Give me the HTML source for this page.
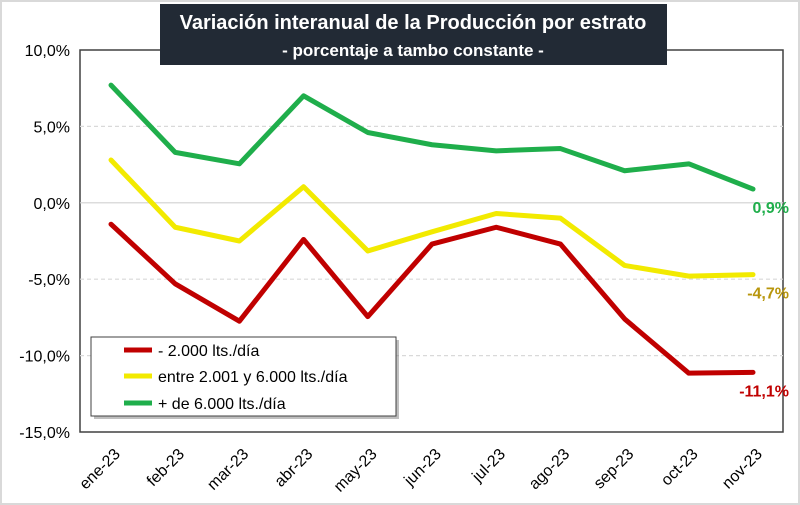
<!DOCTYPE html>
<html><head><meta charset="utf-8"><style>
body{margin:0;background:#fff;}
svg{display:block;font-family:"Liberation Sans",sans-serif;}
</style></head><body>
<svg id="chart" width="800" height="505">
<rect x="1" y="1" width="798" height="503" fill="#fff" stroke="#d9d9d9" stroke-width="2"/>
<rect x="80" y="50" width="703" height="382" fill="#fff" stroke="#404040" stroke-width="1.5"/>
<g id="grid"></g><g id="yaxis"></g><g id="xaxis"></g><g id="series"></g>
<rect x="160" y="4" width="507" height="61" fill="#222a35"/>
<text x="413" y="29" text-anchor="middle" fill="#fff" font-size="20" font-weight="bold">Variación interanual de la Producción por estrato</text>
<text x="413" y="56" text-anchor="middle" fill="#fff" font-size="17" font-weight="bold">- porcentaje a tambo constante -</text>
<g>
<rect x="94" y="340" width="305" height="79" fill="#7f7f7f" opacity="0.5"/>
<rect x="91" y="337" width="305" height="79" fill="#fff" stroke="#404040" stroke-width="1"/>
<line x1="124" y1="350" x2="152" y2="350" stroke="#c00000" stroke-width="5"/>
<text x="158" y="356" font-size="16" fill="#000">- 2.000 lts./día</text>
<line x1="124" y1="376" x2="152" y2="376" stroke="#f2ea00" stroke-width="5"/>
<text x="158" y="382" font-size="16" fill="#000">entre 2.001 y 6.000 lts./día</text>
<line x1="124" y1="403" x2="152" y2="403" stroke="#1fae4b" stroke-width="5"/>
<text x="158" y="409" font-size="16" fill="#000">+ de 6.000 lts./día</text>
</g>
</svg>
<script>
const categories=["ene-23","feb-23","mar-23","abr-23","may-23","jun-23","jul-23","ago-23","sep-23","oct-23","nov-23"];
const smallValues=[-1.4,-5.3,-7.75,-2.4,-7.45,-2.7,-1.6,-2.7,-7.6,-11.15,-11.1];
const mediumValues=[2.8,-1.6,-2.5,1.05,-3.15,-1.9,-0.7,-1.0,-4.1,-4.8,-4.7];
const largeValues=[7.7,3.3,2.55,7.0,4.6,3.8,3.4,3.55,2.1,2.55,0.9];
const yTicks=[10,5,0,-5,-10,-15];
const yTickLabels=["10,0%","5,0%","0,0%","-5,0%","-10,0%","-15,0%"];
const endLabels=["-11,1%","-4,7%","0,9%"];
const NS="http://www.w3.org/2000/svg";
function y(v){return 50+(10-v)*(382/25);}
function x(i){return 111+i*(753-111)/(categories.length-1);}
function mk(tag,attrs,parent){const e=document.createElementNS(NS,tag);for(const k in attrs)e.setAttribute(k,attrs[k]);document.getElementById(parent).appendChild(e);return e;}
yTicks.forEach((t,i)=>{
  if(t<10&&t>-15){const g=mk('line',{x1:80,x2:783,y1:y(t),y2:y(t),stroke:t===0?'#d0d0d0':'#d9d9d9','stroke-width':1.2,'stroke-dasharray':t===0?'':'4,3'},'grid');
  
  }
  const l=mk('text',{x:70,y:y(t)+6,'text-anchor':'end','font-size':16,fill:'#000'},'yaxis');
  l.textContent=yTickLabels[i];
  
  
});
categories.forEach((c,i)=>{
  const l=mk('text',{x:x(i)+10,y:455,'text-anchor':'end','font-size':16,fill:'#000',transform:`rotate(-45 ${x(i)+10} 455)`},'xaxis');
  l.textContent=c;
  
  
});
const series=[[smallValues,'#c00000','series-small','#c00000',endLabels[0]],[mediumValues,'#f2ea00','series-medium','#b8960c',endLabels[1]],[largeValues,'#1fae4b','series-large','#1fae4b',endLabels[2]]];
series.forEach(s=>{
  const p=mk('polyline',{points:s[0].map((v,i)=>x(i)+','+y(v)).join(' '),fill:'none',stroke:s[1],'stroke-width':5,'stroke-linejoin':'round','stroke-linecap':'round'},'series');
  
  
  const n=s[0].length-1;
  const t=mk('text',{x:789,y:y(s[0][n])+24,'text-anchor':'end','font-size':16,'font-weight':'bold',fill:s[3]},'series');
  t.textContent=s[4];
  
  
});
</script>
</body></html>
